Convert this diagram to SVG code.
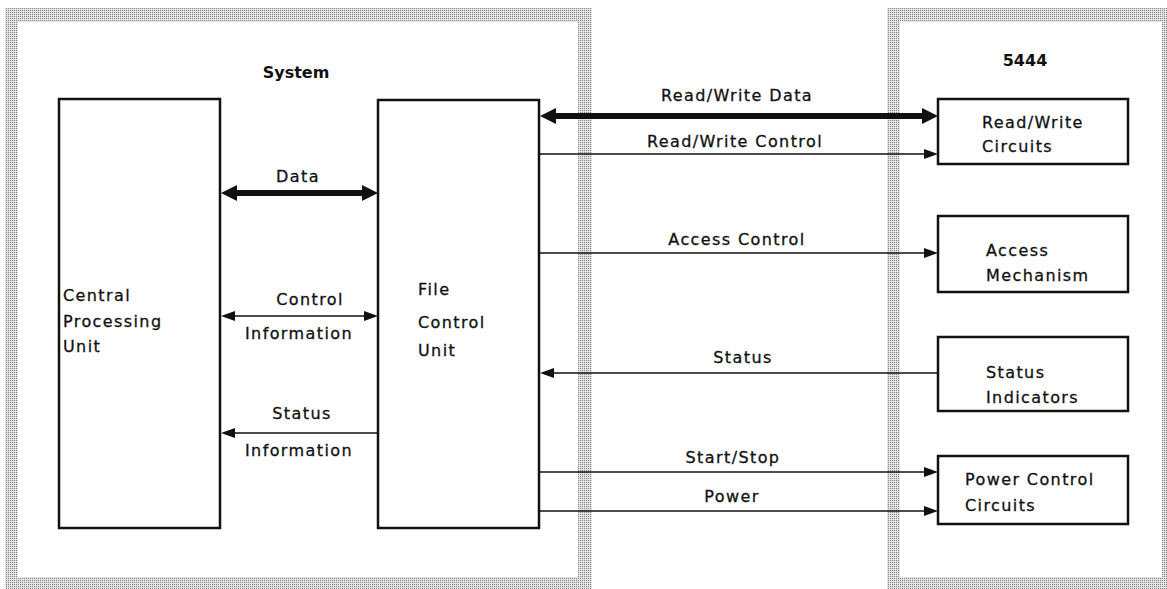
<svg xmlns="http://www.w3.org/2000/svg" width="1167" height="589" viewBox="0 0 1167 589">
<style>
  .box { fill: #ffffff; stroke: #111111; stroke-width: 2.5; }
  .lbl { font-family: "DejaVu Sans", "Liberation Sans", sans-serif; font-size: 16px; letter-spacing: 1.4px; fill: #111111; stroke: #111111; stroke-width: 0.3; }
  .title { font-family: "DejaVu Sans", "Liberation Sans", sans-serif; font-size: 16px; font-weight: bold; fill: #111111; }
  .thin { stroke: #111111; stroke-width: 1.6; fill: none; }
  .thick { stroke: #111111; stroke-width: 6; fill: none; }
  .band { fill: url(#stip); fill-rule: evenodd; }
</style>
<defs>
  <pattern id="stip" width="2" height="2" patternUnits="userSpaceOnUse">
    <rect width="2" height="2" fill="#e4e4e4"/>
    <rect width="1" height="1" fill="#808080"/>
  </pattern>
  <marker id="ah" markerUnits="userSpaceOnUse" markerWidth="14" markerHeight="10" refX="0" refY="5" orient="auto-start-reverse" overflow="visible">
    <path d="M0,0 L14,5 L0,10 Z" fill="#111111"/>
  </marker>
  <marker id="ahb" markerUnits="userSpaceOnUse" markerWidth="16" markerHeight="16" refX="0" refY="8" orient="auto-start-reverse" overflow="visible">
    <path d="M0,0 L16,8 L0,16 Z" fill="#111111"/>
  </marker>
</defs>
<rect width="1167" height="589" fill="#ffffff"/>

<g id="panel-system">
  <path class="band" d="M5,8 H592 V589 H5 Z M18,22 V577 H578 V22 Z"/>
  <text class="title" x="296" y="78" text-anchor="middle">System</text>
</g>
<g id="panel-5444">
  <path class="band" d="M887,8 H1167 V589 H887 Z M900,22 V577 H1162 V22 Z"/>
  <text class="title" x="1025" y="66" text-anchor="middle">5444</text>
</g>

<g id="connectors">
  <line class="thick" x1="237" y1="193" x2="362" y2="193" marker-start="url(#ahb)" marker-end="url(#ahb)"/>
  <line class="thin" x1="235" y1="316" x2="364" y2="316" marker-start="url(#ah)" marker-end="url(#ah)"/>
  <line class="thin" x1="378" y1="433" x2="235" y2="433" marker-end="url(#ah)"/>
  <line class="thick" x1="556" y1="116" x2="922" y2="116" marker-start="url(#ahb)" marker-end="url(#ahb)"/>
  <line class="thin" x1="540" y1="154" x2="924" y2="154" marker-end="url(#ah)"/>
  <line class="thin" x1="540" y1="253" x2="924" y2="253" marker-end="url(#ah)"/>
  <line class="thin" x1="938" y1="373" x2="554" y2="373" marker-end="url(#ah)"/>
  <line class="thin" x1="540" y1="472" x2="924" y2="472" marker-end="url(#ah)"/>
  <line class="thin" x1="540" y1="511" x2="924" y2="511" marker-end="url(#ah)"/>
  <text class="lbl" x="298" y="182" text-anchor="middle">Data</text>
  <text class="lbl" x="310" y="305" text-anchor="middle">Control</text>
  <text class="lbl" x="299" y="339" text-anchor="middle">Information</text>
  <text class="lbl" x="302" y="419" text-anchor="middle">Status</text>
  <text class="lbl" x="299" y="456" text-anchor="middle">Information</text>
  <text class="lbl" x="737" y="101" text-anchor="middle">Read/Write Data</text>
  <text class="lbl" x="735" y="147" text-anchor="middle">Read/Write Control</text>
  <text class="lbl" x="737" y="245" text-anchor="middle">Access Control</text>
  <text class="lbl" x="743" y="363" text-anchor="middle">Status</text>
  <text class="lbl" x="733" y="463" text-anchor="middle">Start/Stop</text>
  <text class="lbl" x="732" y="502" text-anchor="middle">Power</text>
</g>

<g id="node-cpu">
  <rect class="box" x="59" y="99" width="161" height="429"/>
  <text class="lbl" x="63" y="301">Central</text>
  <text class="lbl" x="63" y="327">Processing</text>
  <text class="lbl" x="63" y="352">Unit</text>
</g>
<g id="node-fcu">
  <rect class="box" x="378" y="100" width="161" height="428"/>
  <text class="lbl" x="418" y="295">File</text>
  <text class="lbl" x="418" y="328">Control</text>
  <text class="lbl" x="418" y="356">Unit</text>
</g>
<g id="node-rw">
  <rect class="box" x="938" y="99" width="190" height="65"/>
  <text class="lbl" x="982" y="128">Read/Write</text>
  <text class="lbl" x="982" y="152">Circuits</text>
</g>
<g id="node-access">
  <rect class="box" x="938" y="216" width="190" height="76"/>
  <text class="lbl" x="986" y="256">Access</text>
  <text class="lbl" x="986" y="281">Mechanism</text>
</g>
<g id="node-status">
  <rect class="box" x="938" y="337" width="190" height="74"/>
  <text class="lbl" x="986" y="378">Status</text>
  <text class="lbl" x="986" y="403">Indicators</text>
</g>
<g id="node-power">
  <rect class="box" x="938" y="456" width="190" height="68"/>
  <text class="lbl" x="965" y="485">Power Control</text>
  <text class="lbl" x="965" y="511">Circuits</text>
</g>
</svg>
